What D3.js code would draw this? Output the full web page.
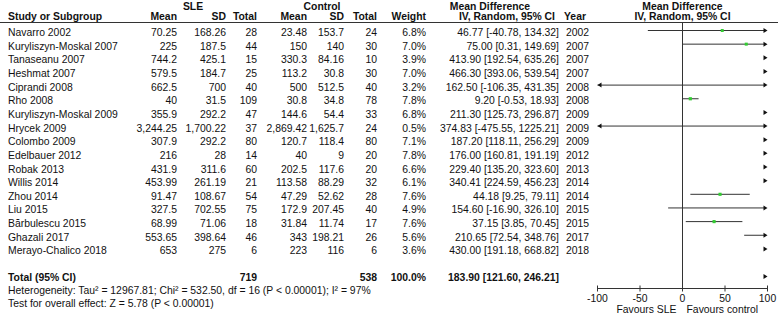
<!DOCTYPE html>
<html>
<head>
<meta charset="utf-8">
<script src="https://cdn.jsdelivr.net/npm/d3@7"></script>
<style>
  body { margin: 0; background: #fff; }
  svg text { font-family: "Liberation Sans", Arial, sans-serif; font-size: 10.4px; fill: #111; }
  .bold { font-weight: bold; }
</style>
</head>
<body>
<div id="chart"></div>
<script>
// Study data (SLE vs control)
const studies = ["Navarro 2002", "Kuryliszyn-Moskal 2007", "Tanaseanu 2007", "Heshmat 2007", "Ciprandi 2008", "Rho 2008",
  "Kuryliszyn-Moskal 2009", "Hrycek 2009", "Colombo 2009", "Edelbauer 2012", "Robak 2013", "Willis 2014", "Zhou 2014",
  "Liu 2015", "Bărbulescu 2015", "Ghazali 2017", "Merayo-Chalico 2018"]
const years = [2002, 2007, 2007, 2007, 2008, 2008, 2009, 2009, 2009, 2012, 2013, 2014, 2014, 2015, 2015, 2017, 2018]
const sleMean = [70.25, 225, 744.2, 579.5, 662.5, 40, 355.9, 3244.25, 307.9, 216, 431.9, 453.99, 91.47, 327.5, 68.99, 553.65, 653]
const sleSD = [168.26, 187.5, 425.1, 184.7, 700, 31.5, 292.2, 1700.22, 292.2, 28, 311.6, 261.19, 108.67, 702.55, 71.06, 398.64, 275]
const sleTotal = [28, 44, 15, 25, 40, 109, 47, 37, 80, 14, 60, 21, 54, 75, 18, 46, 6]
const ctrlMean = [23.48, 150, 330.3, 113.2, 500, 30.8, 144.6, 2869.42, 120.7, 40, 202.5, 113.58, 47.29, 172.9, 31.84, 343, 223]
const ctrlSD = [153.7, 140, 84.16, 30.8, 512.5, 34.8, 54.4, 1625.7, 118.4, 9, 117.6, 88.29, 52.62, 207.45, 11.74, 198.21, 116]
const ctrlTotal = [24, 30, 10, 30, 40, 78, 33, 24, 80, 20, 20, 32, 28, 40, 17, 26, 6]
const weights = [6.8, 7.0, 3.9, 7.0, 3.2, 7.8, 6.8, 0.5, 7.1, 7.8, 6.6, 6.1, 7.6, 4.9, 7.6, 5.6, 3.6]
const md = [46.77, 75.00, 413.90, 466.30, 162.50, 9.20, 211.30, 374.83, 187.20, 176.00, 229.40, 340.41, 44.18, 154.60, 37.15, 210.65, 430.00]
const ciLow = [-40.78, 0.31, 192.54, 393.06, -106.35, -0.53, 125.73, -475.55, 118.11, 160.81, 135.20, 224.59, 9.25, -16.90, 3.85, 72.54, 191.18]
const ciHigh = [134.32, 149.69, 635.26, 539.54, 431.35, 18.93, 296.87, 1225.21, 256.29, 191.19, 323.60, 456.23, 79.11, 326.10, 70.45, 348.76, 668.82]

// Pooled estimate
const totalLabel = "Total (95% CI)"
const totalN = [719, 538]
const totalMD = [183.90, 121.60, 246.21]
const heterogeneity = "Heterogeneity: Tau² = 12967.81; Chi² = 532.50, df = 16 (P < 0.00001); I² = 97%"
const overallTest = "Test for overall effect: Z = 5.78 (P < 0.00001)"

const xTicks = [-100, -50, 0, 50, 100]
const favours = ["Favours SLE", "Favours control"]

const width = 778, height = 317
const rowStep = 13.65, rowTop = 30
const lineColor = "#333", markColor = "#33cc33"

const svg = d3.select("#chart").append("svg")
  .attr("width", width)
  .attr("height", height)

// plain hyphen for negatives, like the original
const locale = d3.formatLocale({ decimal: ".", thousands: ",", grouping: [3], currency: ["", ""], minus: "-" })
const num = locale.format(",")
const fix2 = locale.format(".2f")

const yScale = i => rowTop + i * rowStep
const xScale = d3.scaleLinear().domain([-100, 100]).range([597.5, 767.5])
const sizeScale = d3.scaleSqrt().domain([0, 10]).range([0, 3.6])

// Column positions (x, anchor)
const cols = {
  study: [8, "start"], sleMean: [177, "end"], sleSD: [226, "end"], sleTotal: [257, "end"],
  ctrlMean: [307, "end"], ctrlSD: [344, "end"], ctrlTotal: [377, "end"], weight: [426, "end"],
  ci: [559, "end"], year: [566, "start"]
}

function addText(g, x, y, str, anchor, cls) {
  return g.append("text")
    .attr("x", x).attr("y", y)
    .attr("text-anchor", anchor || "start")
    .attr("class", cls || null)
    .text(str)
}

// Headers
let head = svg.append("g").attr("class", "header")
addText(head, 193, 9.5, "SLE", "middle", "bold")
addText(head, 322, 9.5, "Control", "middle", "bold")
addText(head, 490, 9.5, "Mean Difference", "middle", "bold")
addText(head, 682.5, 9.5, "Mean Difference", "middle", "bold")
addText(head, cols.study[0], 20, "Study or Subgroup", "start", "bold")
addText(head, cols.sleMean[0], 20, "Mean", "end", "bold")
addText(head, cols.sleSD[0], 20, "SD", "end", "bold")
addText(head, cols.sleTotal[0], 20, "Total", "end", "bold")
addText(head, cols.ctrlMean[0], 20, "Mean", "end", "bold")
addText(head, cols.ctrlSD[0], 20, "SD", "end", "bold")
addText(head, cols.ctrlTotal[0], 20, "Total", "end", "bold")
addText(head, cols.weight[0], 20, "Weight", "end", "bold")
addText(head, cols.ci[0] - 4, 20, "IV, Random, 95% CI", "end", "bold")
addText(head, cols.year[0] - 2, 20, "Year", "start", "bold")
addText(head, 682.5, 20, "IV, Random, 95% CI", "middle", "bold")

head.append("line")
  .attr("x1", 0).attr("x2", width)
  .attr("y1", 22.5).attr("y2", 22.5)
  .attr("stroke", lineColor)

// Table rows
let rows = svg.append("g").attr("class", "rows")
  .selectAll("g")
  .data(studies)
  .enter().append("g")
  .attr("transform", (d, i) => `translate(0,${yScale(i) + 6})`)

rows.each(function(d, i) {
  let g = d3.select(this)
  addText(g, cols.study[0], 0, d, "start")
  addText(g, cols.sleMean[0], 0, num(sleMean[i]), "end")
  addText(g, cols.sleSD[0], 0, num(sleSD[i]), "end")
  addText(g, cols.sleTotal[0], 0, sleTotal[i], "end")
  addText(g, cols.ctrlMean[0], 0, num(ctrlMean[i]), "end")
  addText(g, cols.ctrlSD[0], 0, num(ctrlSD[i]), "end")
  addText(g, cols.ctrlTotal[0], 0, ctrlTotal[i], "end")
  addText(g, cols.weight[0], 0, weights[i].toFixed(1) + "%", "end")
  addText(g, cols.ci[0], 0, `${fix2(md[i])} [${fix2(ciLow[i])}, ${fix2(ciHigh[i])}]`, "end")
  addText(g, cols.year[0], 0, years[i], "start")
})

// Total row
let totalRow = svg.append("g").attr("transform", "translate(0,280.5)")
addText(totalRow, cols.study[0], 0, totalLabel, "start", "bold")
addText(totalRow, cols.sleTotal[0], 0, totalN[0], "end", "bold")
addText(totalRow, cols.ctrlTotal[0], 0, totalN[1], "end", "bold")
addText(totalRow, cols.weight[0], 0, "100.0%", "end", "bold")
addText(totalRow, cols.ci[0], 0, `${fix2(totalMD[0])} [${fix2(totalMD[1])}, ${fix2(totalMD[2])}]`, "end", "bold")
addText(svg, cols.study[0], 293.5, heterogeneity, "start")
addText(svg, cols.study[0], 306.5, overallTest, "start")

// Forest plot
let [xMin, xMax] = xScale.domain()
let plot = svg.append("g").attr("class", "forest")

plot.append("line")
  .attr("x1", xScale(0)).attr("x2", xScale(0))
  .attr("y1", 22.5).attr("y2", 288.5)
  .attr("stroke", lineColor)

function arrowRight(g, y) {
  let tip = xScale(xMax)
  g.append("path")
    .attr("d", `M${tip},${y}L${tip - 4},${y - 2.5}L${tip - 4},${y + 2.5}Z`)
    .attr("fill", "#111")
}
function arrowLeft(g, y) {
  let tip = xScale(xMin)
  g.append("path")
    .attr("d", `M${tip},${y}L${tip + 4},${y - 2.5}L${tip + 4},${y + 2.5}Z`)
    .attr("fill", "#111")
}

function drawCI(lo, hi, est, y, w) {
  let g = plot.append("g")
  if (hi > xMin && lo < xMax) {
    g.append("line")
      .attr("x1", xScale(Math.max(lo, xMin)))
      .attr("x2", xScale(Math.min(hi, xMax)) - (hi > xMax ? 2 : 0))
      .attr("y1", y).attr("y2", y)
      .attr("stroke", lineColor)
  }
  if (hi > xMax) arrowRight(g, y)
  if (lo < xMin) arrowLeft(g, y)
  if (w && est >= xMin && est <= xMax) {
    let s = Math.max(2, sizeScale(w))
    g.append("rect")
      .attr("x", xScale(est) - s / 2).attr("y", y - s / 2)
      .attr("width", s).attr("height", s)
      .attr("fill", markColor)
  }
}

studies.forEach((d, i) => drawCI(ciLow[i], ciHigh[i], md[i], yScale(i) + 0.5, weights[i]))
drawCI(totalMD[1], totalMD[2], totalMD[0], 276.5, null)

// X axis
let axis = plot.append("g")
  .attr("transform", "translate(0,288.5)")
axis.append("line")
  .attr("x1", xScale(xMin)).attr("x2", xScale(xMax))
  .attr("stroke", lineColor)
axis.selectAll(".tick")
  .data(xTicks)
  .enter().append("line")
  .attr("x1", d => xScale(d)).attr("x2", d => xScale(d))
  .attr("y1", -3).attr("y2", 3)
  .attr("stroke", lineColor)
axis.selectAll(".tick-label")
  .data(xTicks)
  .enter().append("text")
  .attr("x", d => xScale(d))
  .attr("y", 13.5)
  .attr("text-anchor", "middle")
  .text(d => locale.format("d")(d))

addText(svg, xScale(0) - 6, 313, favours[0], "end")
addText(svg, xScale(0) + 4, 313, favours[1], "start")
</script>
</body>
</html>
